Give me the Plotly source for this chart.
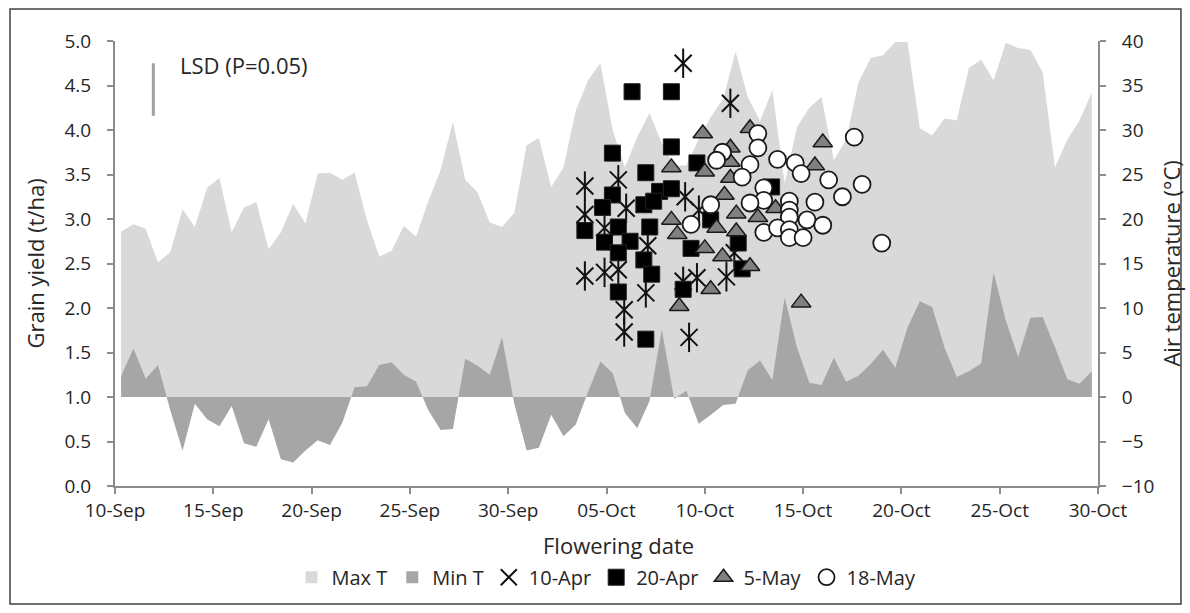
import pandas as pd
import plotly.graph_objects as go

# ---------------- data ----------------
# daily air temperature (°C), plotted on their own category axis
max_t = [18.6, 19.4, 18.9, 15.1, 16.3, 21.1, 19.1, 23.5, 24.6, 18.5,
         21.3, 21.9, 16.6, 18.5, 21.7, 19.5, 25.1, 25.2, 24.4, 25.2,
         19.9, 15.8, 16.4, 19.2, 18.0, 22.0, 25.5, 30.9, 24.4, 23.0,
         19.6, 19.1, 20.7, 28.3, 29.1, 23.6, 25.8, 32.2, 35.6, 37.5,
         30.0, 25.8, 29.2, 31.9, 28.5, 26.0, 26.0, 29.0, 31.5, 33.5,
         38.8, 33.7, 31.0, 34.5, 24.0, 30.3, 32.5, 33.7, 26.6, 28.9,
         35.3, 38.1, 38.4, 39.9, 39.9, 30.2, 29.4, 31.3, 31.1, 37.0,
         37.9, 35.6, 39.8, 39.2, 39.0, 36.5, 25.8, 28.9, 31.1, 34.2]
min_t = [2.35, 5.45, 2.05, 3.6, -1.5, -6.0, -0.75, -2.5, -3.3, -1.0,
         -5.2, -5.6, -2.5, -7.0, -7.35, -6.0, -4.85, -5.4, -2.9, 1.1,
         1.2, 3.6, 3.9, 2.5, 1.7, -1.5, -3.7, -3.6, 4.3, 3.5,
         2.5, 6.7, -0.8, -6.0, -5.7, -2.0, -4.4, -3.1, 0.6, 4.0,
         2.7, -1.8, -3.5, -0.45, 7.6, -0.2, 0.7, -3.0, -2.0, -0.9,
         -0.75, 3.0, 4.1, 1.9, 11.2, 5.6, 1.6, 1.35, 4.4, 1.7,
         2.4, 3.7, 5.3, 3.3, 7.8, 10.75, 10.1, 5.6, 2.25, 2.9,
         3.8, 14.0, 8.6, 4.5, 8.9, 9.0, 5.6, 2.0, 1.5, 2.9]
temp_index = list(range(len(max_t)))

# flowering date (days after 10-Sep) and grain yield (t/ha) per sowing date
apr10_day = [23.9, 23.9, 23.9, 24.9, 24.9, 25.6, 25.6, 26.0, 25.9, 25.9,
             27.0, 27.1, 28.9, 29.0, 28.9, 29.2, 29.7, 29.6, 31.3, 31.1, 31.5]
apr10_yield = [3.37, 3.05, 2.36, 2.40, 2.90, 3.44, 2.43, 3.12, 1.98, 1.73,
               2.17, 2.70, 4.75, 3.25, 2.30, 1.67, 3.10, 2.34, 4.30, 2.35, 2.62]

apr20_day = [26.3, 28.3, 25.3, 28.3, 27.0, 29.6, 25.3, 24.8, 27.7, 28.3,
             26.9, 23.9, 25.6, 24.9, 26.2, 27.2, 25.6, 26.9, 27.3, 25.6,
             28.9, 27.0, 29.3, 30.3, 31.7, 31.9, 33.4, 27.4]
apr20_yield = [4.43, 4.43, 3.74, 3.81, 3.52, 3.63, 3.27, 3.13, 3.31, 3.34,
               3.16, 2.87, 2.91, 2.74, 2.75, 2.91, 2.62, 2.54, 2.38, 2.18,
               2.21, 1.65, 2.67, 2.99, 2.73, 2.44, 3.36, 3.20]

may5_day = [29.9, 32.3, 31.3, 28.3, 30.0, 31.3, 31.3, 31.0, 31.6, 32.7,
            33.6, 36.0, 35.6, 28.3, 28.6, 31.6, 30.6, 30.9, 32.3, 30.0,
            30.3, 28.7, 34.9]
may5_yield = [3.96, 4.02, 3.80, 3.58, 3.53, 3.64, 3.46, 3.27, 3.06, 3.02,
              3.12, 3.86, 3.60, 2.99, 2.83, 2.86, 2.90, 2.58, 2.47, 2.67,
              2.21, 2.02, 2.06]

may18_day = [32.7, 32.7, 30.9, 30.6, 32.3, 33.7, 34.6, 34.9, 36.3, 37.6,
             38.0, 37.0, 31.9, 33.0, 33.0, 32.3, 30.3, 34.3, 34.3, 34.3,
             35.6, 35.2, 36.0, 29.3, 33.0, 33.7, 34.3, 34.3, 35.0, 39.0]
may18_yield = [3.96, 3.80, 3.75, 3.66, 3.61, 3.67, 3.63, 3.51, 3.44, 3.92,
               3.39, 3.25, 3.47, 3.35, 3.21, 3.18, 3.16, 3.20, 3.10, 3.02,
               3.19, 2.99, 2.93, 2.94, 2.85, 2.90, 2.88, 2.79, 2.79, 2.73]

lsd_value = 0.59
lsd_top = 4.75
lsd_day = 1.95

start_date = pd.Timestamp("2017-09-10")
end_date = pd.Timestamp("2017-10-30")


def to_dates(days):
    return [start_date + pd.Timedelta(days=d) for d in days]


# ---------------- figure ----------------
FONT = "Open Sans"
TXT = "#262626"
AXC = "#8c8c8c"

fig = go.Figure()

# temperature areas (base axes x / y)
fig.add_trace(go.Scatter(x=temp_index, y=max_t, mode="none", fill="tozeroy",
                         fillcolor="#d9d9d9", showlegend=False, hoverinfo="skip",
                         xaxis="x", yaxis="y"))
fig.add_trace(go.Scatter(x=temp_index, y=min_t, mode="none", fill="tozeroy",
                         fillcolor="#a6a6a6", showlegend=False, hoverinfo="skip",
                         xaxis="x", yaxis="y"))

# legend proxies for the areas
fig.add_trace(go.Scatter(x=[None], y=[None], mode="markers", name="Max T",
                         marker=dict(symbol="square", size=12, color="#d9d9d9"),
                         xaxis="x2", yaxis="y2"))
fig.add_trace(go.Scatter(x=[None], y=[None], mode="markers", name="Min T",
                         marker=dict(symbol="square", size=12, color="#a6a6a6"),
                         xaxis="x2", yaxis="y2"))

# LSD bar
lsd_x = to_dates([lsd_day, lsd_day])
fig.add_trace(go.Scatter(x=lsd_x, y=[lsd_top - lsd_value, lsd_top], mode="lines",
                         line=dict(color="#a0a0a0", width=3), showlegend=False,
                         xaxis="x2", yaxis="y2"))

# yields
fig.add_trace(go.Scatter(x=to_dates(apr10_day), y=apr10_yield, mode="markers",
                         name="10-Apr", legendgroup="a",
                         marker=dict(symbol="x-thin-open", size=17, color="#111111",
                                     line=dict(color="#111111", width=2)),
                         xaxis="x2", yaxis="y2"))
fig.add_trace(go.Scatter(x=to_dates(apr10_day), y=apr10_yield, mode="markers",
                         name="10-Apr", legendgroup="a", showlegend=False,
                         marker=dict(symbol="line-ns-open", size=21, color="#111111",
                                     line=dict(color="#111111", width=2)),
                         xaxis="x2", yaxis="y2"))
fig.add_trace(go.Scatter(x=to_dates(apr20_day), y=apr20_yield, mode="markers",
                         name="20-Apr",
                         marker=dict(symbol="square", size=16, color="#000000",
                                     line=dict(color="#222222", width=1)),
                         xaxis="x2", yaxis="y2"))
fig.add_trace(go.Scatter(x=to_dates(may5_day), y=may5_yield, mode="markers",
                         name="5-May",
                         marker=dict(symbol="triangle-up", size=17, color="#808080",
                                     line=dict(color="#1a1a1a", width=1.5)),
                         xaxis="x2", yaxis="y2"))
fig.add_trace(go.Scatter(x=to_dates(may18_day), y=may18_yield, mode="markers",
                         name="18-May",
                         marker=dict(symbol="circle", size=17, color="#ffffff",
                                     line=dict(color="#1a1a1a", width=1.8)),
                         xaxis="x2", yaxis="y2"))

tickfont = dict(family=FONT, size=19, color=TXT)
titlefont = dict(family=FONT, size=22, color=TXT)

fig.update_layout(
    width=1190, height=613,
    margin=dict(l=115, r=92, t=41, b=127, autoexpand=False),
    paper_bgcolor="white", plot_bgcolor="white",
    font=dict(family=FONT, size=19, color=TXT),
    showlegend=True,
    legend=dict(orientation="h", x=0.50, xanchor="center", y=-0.205, yanchor="middle",
                font=dict(family=FONT, size=20, color=TXT),
                itemwidth=30, tracegroupgap=0, bgcolor="rgba(0,0,0,0)"),
    xaxis=dict(range=[-0.5, len(max_t) - 0.5], visible=False, fixedrange=True),
    yaxis=dict(range=[-10, 40], side="right", dtick=5, showgrid=False,
               zeroline=False, showline=True, linecolor=AXC, linewidth=2,
               ticks="outside", ticklen=6, tickcolor=AXC, tickwidth=2,
               tickfont=tickfont, automargin=False, ticklabelstandoff=12),
    xaxis2=dict(overlaying="x", side="bottom", type="date",
                range=[start_date, end_date],
                tick0=start_date, dtick=5 * 86400000, tickformat="%d-%b",
                showgrid=False, zeroline=False, showline=True, linecolor=AXC,
                linewidth=2, ticks="outside", ticklen=6, tickcolor=AXC, tickwidth=2,
                tickfont=tickfont, automargin=False),
    yaxis2=dict(overlaying="y", side="left", range=[0, 5], dtick=0.5,
                tickformat=".1f", showgrid=False, zeroline=False, showline=True,
                linecolor=AXC, linewidth=2, ticks="outside", ticklen=6,
                tickcolor=AXC, tickwidth=2, tickfont=tickfont, automargin=False,
                ticklabelstandoff=12),
    annotations=[
        dict(x=start_date + pd.Timedelta(days=3.2), y=lsd_top - 0.02,
             xref="x2", yref="y2", text="LSD (P=0.05)", showarrow=False,
             xanchor="left", yanchor="middle",
             font=dict(family=FONT, size=22, color=TXT)),
        dict(x=-0.0814, y=0.5, xref="paper", yref="paper", text="Grain yield (t/ha)",
             textangle=-90, showarrow=False, xanchor="center", yanchor="middle",
             font=titlefont),
        dict(x=1.0733, y=0.5, xref="paper", yref="paper", text="Air temperature (°C)",
             textangle=-90, showarrow=False, xanchor="center", yanchor="middle",
             font=titlefont),
        dict(x=0.5127, y=-0.1326, xref="paper", yref="paper", text="Flowering date",
             showarrow=False, xanchor="center", yanchor="middle", font=titlefont),
    ],
    shapes=[dict(type="rect", xref="paper", yref="paper",
                 x0=-0.1068, x1=1.0844, y0=-0.2652, y1=1.0719,
                 line=dict(color="#404040", width=1.5), fillcolor="rgba(0,0,0,0)",
                 layer="above")],
)

fig.write_html("out.html")
